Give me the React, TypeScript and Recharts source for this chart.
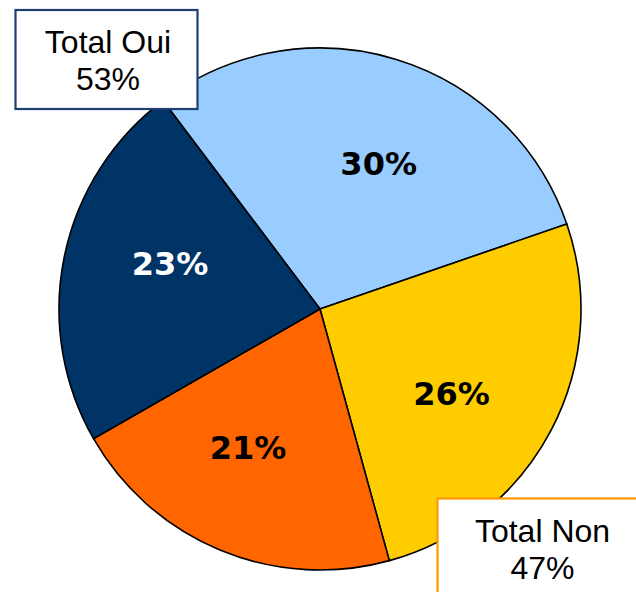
import React from 'react';
import { PieChart, Pie, Cell } from 'recharts';

const sliceNames = ['Oui A', 'Non A', 'Non B', 'Oui B'];
const sliceValues = [30, 26, 21, 23];
const sliceGroups = ['Oui', 'Non', 'Non', 'Oui'];
const groupNames = ['Oui', 'Non'];
const groupTitles = ['Total Oui', 'Total Non'];

const sliceColors = ['#99CCFF', '#FFCC00', '#FF6600', '#003366'];
const labelColors = ['#000000', '#000000', '#000000', '#FFFFFF'];

const data = sliceNames.map((name, i) => ({ name, value: sliceValues[i], group: sliceGroups[i] }));
const groupTotals = groupNames.map((g) =>
  sliceValues.reduce((s, v, i) => (sliceGroups[i] === g ? s + v : s), 0)
);

const RAD = Math.PI / 180;

const renderLabel = (props: any) => {
  const { cx, cy, midAngle, outerRadius, value, index } = props;
  const r = outerRadius * 0.6;
  const a = midAngle - 5;
  const x = cx + r * Math.cos(-a * RAD);
  const y = cy + r * Math.sin(-a * RAD);
  return (
    <text
      x={x}
      y={y}
      textAnchor="middle"
      dominantBaseline="central"
      fill={labelColors[index]}
      fontFamily="DejaVu Sans"
      fontWeight="bold"
      fontSize={32}
    >
      {`${value}%`}
    </text>
  );
};

const TotalBoxes = () => {
  const boxes = [
    { x: 15.5, y: 10, w: 182, h: 99, stroke: '#1F3F6F', tx: 108, title: groupTitles[0], total: groupTotals[0] },
    { x: 437.5, y: 498.5, w: 220, h: 120, stroke: '#FF9900', tx: 542.5, title: groupTitles[1], total: groupTotals[1] },
  ];
  return (
    <svg
      width={636}
      height={592}
      style={{ position: 'absolute', left: 0, top: 0, pointerEvents: 'none' }}
    >
      {boxes.map((b, i) => (
        <g key={i}>
          <rect x={b.x} y={b.y} width={b.w} height={b.h} fill="#FFFFFF" stroke={b.stroke} strokeWidth={2.2} />
          <text x={b.tx} y={b.y + 43} textAnchor="middle" fontFamily="Liberation Sans" fontSize={32} fill="#000000">
            {b.title}
          </text>
          <text x={b.tx} y={b.y + 80} textAnchor="middle" fontFamily="Liberation Sans" fontSize={32} fill="#000000">
            {`${b.total}%`}
          </text>
        </g>
      ))}
    </svg>
  );
};

export default function App() {
  return (
    <div style={{ position: 'absolute', left: 0, top: 0, width: 636, height: 592, background: '#FFFFFF' }}>
      <PieChart width={636} height={592} margin={{ top: 0, right: 0, bottom: 0, left: 0 }}>
        <Pie
          data={data}
          dataKey="value"
          nameKey="name"
          cx={320}
          cy={309}
          outerRadius={261}
          startAngle={127}
          endAngle={-233}
          stroke="#000000"
          strokeWidth={1.6}
          label={renderLabel}
          labelLine={false}
          isAnimationActive={false}
        >
          {data.map((d, i) => (
            <Cell key={d.name} fill={sliceColors[i]} />
          ))}
        </Pie>
      </PieChart>
      <TotalBoxes />
    </div>
  );
}
